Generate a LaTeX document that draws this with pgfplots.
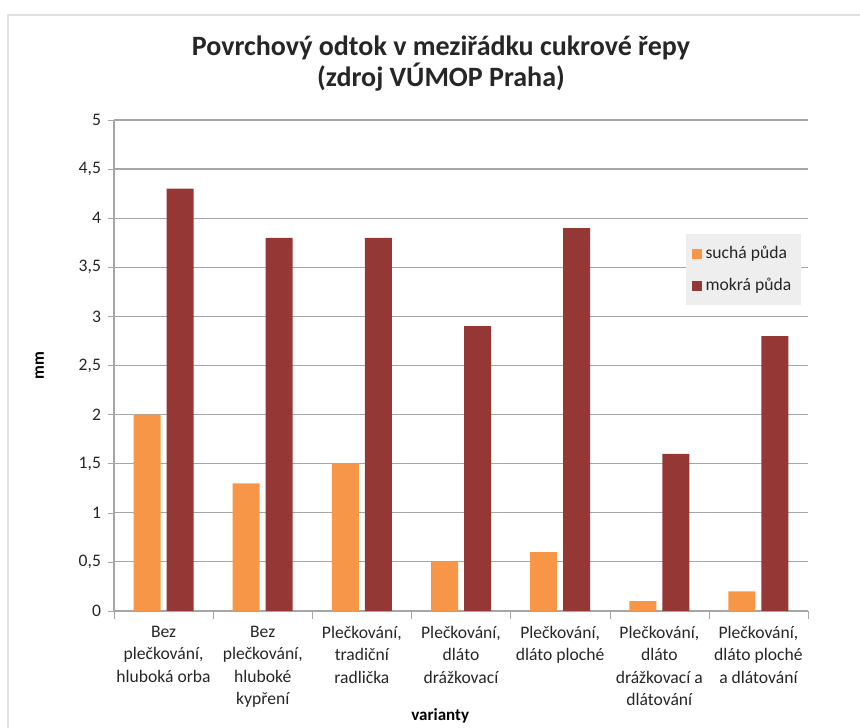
\documentclass[border=0pt]{standalone}
\usepackage{pgfplots}
\pgfplotsset{compat=1.18}
\usepackage{fontspec}
\setmainfont{Carlito}
\definecolor{sucha}{HTML}{F79646}
\definecolor{mokra}{HTML}{953735}
\definecolor{gridc}{HTML}{A6A6A6}
\definecolor{legbg}{HTML}{EEEEEE}
\begin{document}
\begin{tikzpicture}
\path[use as bounding box] (0,0) rectangle (430pt,363.5pt);
\draw[black!12, line width=0.8pt] (4pt,-10pt) rectangle (440pt,356pt);
\node[align=center, font=\fontsize{14}{15.5}\selectfont\bfseries, text=black!85] at (220.5pt,331.5pt)
  {Povrchový odtok v meziřádku cukrové řepy\\(zdroj VÚMOP Praha)};
\begin{axis}[
  at={(57pt,58pt)}, anchor=south west,
  scale only axis, width=347pt, height=245.5pt,
  ybar=3pt, bar width=13.5pt,
  ymin=0, ymax=5, ytick={0,0.5,...,5},
  xmin=-0.5, xmax=6.5,
  xtick={0,...,6},
  xticklabels={{Bez\\plečkování,\\hluboká orba},{Bez\\plečkování,\\hluboké\\kypření},{Plečkování,\\tradiční\\radlička},{Plečkování,\\dláto\\drážkovací},{Plečkování,\\dláto ploché},{Plečkování,\\dláto\\drážkovací a\\dlátování},{Plečkování,\\dláto ploché\\a dlátování}},
  minor xtick={-0.5,0.5,...,6.5},
  major x tick style={draw=none},
  minor x tick style={draw=gridc},
  axis x line*=bottom, axis y line*=left,
  axis line style={gridc, line width=0.6pt},
  ytick style={gridc},
  tick align=outside, major tick length=3pt, minor tick length=4pt,
  ymajorgrids, grid style={gridc, line width=0.6pt},
  xticklabel style={align=center, font=\fontsize{8.8}{11.2}\selectfont, text=black!85, yshift=-1pt},
  yticklabel style={font=\fontsize{8.8}{10}\selectfont, text=black!85},
  /pgf/number format/use comma,
  /pgf/number format/assume math mode=true,
  ylabel={mm}, xlabel={varianty},
  ylabel style={font=\fontsize{8.5}{10}\selectfont\bfseries, at={(axis description cs:-0.107,0.5)}, anchor=center},
  xlabel style={font=\fontsize{8.5}{10}\selectfont\bfseries, at={(axis description cs:0.47,-0.214)}, anchor=center},
  legend style={at={(axis description cs:0.823,0.768)}, anchor=north west, fill=legbg, draw=none,
    font=\fontsize{8.8}{10}\selectfont, text=black!85, row sep=4pt, inner xsep=3pt, inner ysep=4pt},
  legend cell align=left,
  legend image code/.code={\fill[#1] (0pt,-2.5pt) rectangle (5pt,2.5pt);},
]
\addplot[fill=sucha, draw=none] coordinates {(0,2) (1,1.3) (2,1.5) (3,0.5) (4,0.6) (5,0.1) (6,0.2)};
\addplot[fill=mokra, draw=none] coordinates {(0,4.3) (1,3.8) (2,3.8) (3,2.9) (4,3.9) (5,1.6) (6,2.8)};
\legend{suchá půda, mokrá půda}
\end{axis}
\end{tikzpicture}
\end{document}
